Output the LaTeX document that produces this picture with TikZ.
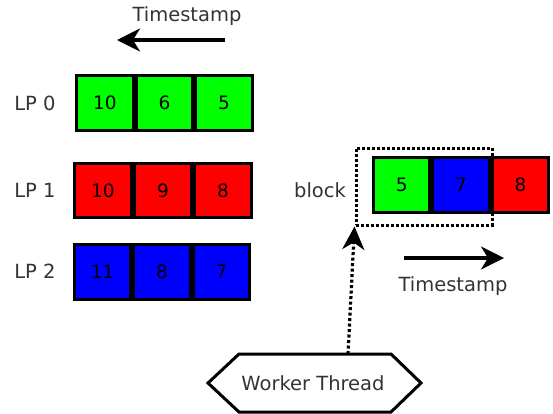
\documentclass[tikz,border=0pt]{standalone}
\usepackage{fontspec}
\setmainfont{DejaVu Sans}
\usetikzlibrary{arrows.meta}
\definecolor{lbl}{gray}{0.2}
\tikzset{
  cell/.style={draw=black, line width=3.2pt, minimum width=56.5pt, minimum height=54.5pt, inner sep=0pt, font=\fontsize{18.5}{18.5}\selectfont, text=black},
  gcell/.style={cell, fill={rgb,255:red,0;green,255;blue,0}},
  rcell/.style={cell, fill={rgb,255:red,255;green,0;blue,0}},
  bcell/.style={cell, fill={rgb,255:red,0;green,0;blue,255}},
  lab/.style={text=lbl, font=\fontsize{19.5}{19.5}\selectfont, inner sep=0pt},
  bigarrow/.style={line width=3.2pt, -{Stealth[length=23pt,width=23pt,inset=7pt]}},
  dotarrow/.style={line width=3.2pt, dash pattern=on 3pt off 2.5pt, -{Stealth[length=23pt,width=22pt,inset=7pt,sep=0pt]}},
  dotbox/.style={draw=black, line width=3pt, dash pattern=on 3pt off 2pt, inner sep=0pt},
}
\begin{document}
\begin{tikzpicture}[x=1pt,y=-1pt]
\useasboundingbox (0,0) rectangle (553,413);
% top timestamp
\node[lab] (ts1) at (187,16) {Timestamp};
\coordinate (a1s) at (225,40);
\coordinate (a1e) at (117,40);
\draw[bigarrow] (a1s) -- (a1e);
% LP labels
\node[lab] (lp0) at (35,103) {LP 0};
\node[lab] (lp1) at (35,190) {LP 1};
\node[lab] (lp2) at (35,271) {LP 2};
% LP0
\node[gcell] (c00) at (105,103) {10};
\node[gcell] (c01) at (164.5,103) {6};
\node[gcell] (c02) at (224,103) {5};
% LP1
\node[rcell] (c10) at (103,190.5) {10};
\node[rcell] (c11) at (163,190.5) {9};
\node[rcell] (c12) at (223,190.5) {8};
% LP2
\node[bcell] (c20) at (102.5,272) {11};
\node[bcell] (c21) at (162,272) {8};
\node[bcell] (c22) at (221.5,272) {7};
% right block
\node[gcell] (r0) at (401.7,185) {5};
\node[bcell] (r1) at (461,185) {7};
\node[rcell] (r2) at (520.5,185) {8};
\node[dotbox, minimum width=136pt, minimum height=77pt] (blk) at (424,186.5) {};
\node[lab] (blab) at (320,190) {block};
% bottom timestamp
\coordinate (a2s) at (404,258);
\coordinate (a2e) at (504,258);
\draw[bigarrow] (a2s) -- (a2e);
\node[lab] (ts2) at (453,286) {Timestamp};
% worker thread
\node[lab] (wt) at (313,383) {Worker Thread};
\draw[black, line width=3pt, line join=miter] (208,383) -- (239,354) -- (391,354) -- (421,383) -- (391,412) -- (239,412) -- cycle;
\coordinate (wtop) at (348,354);
\draw[dotarrow] (wtop) -- (blk.south west);
\end{tikzpicture}
\end{document}
